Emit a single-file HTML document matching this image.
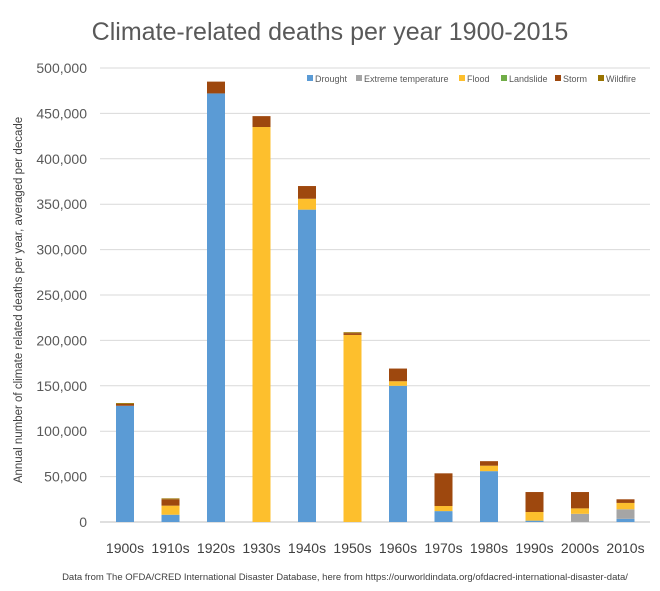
<!DOCTYPE html>
<html><head><meta charset="utf-8"><style>
body{margin:0;background:#fff;font-family:"Liberation Sans",sans-serif}
</style></head><body>
<svg id="c" width="660" height="586" xmlns="http://www.w3.org/2000/svg">
<text x="330" y="40" text-anchor="middle" font-size="25" fill="#595959">Climate-related deaths per year 1900-2015</text>
<text transform="translate(22,300) rotate(-90)" text-anchor="middle" font-size="11.5" fill="#404040">Annual number of climate related deaths per year, averaged per decade</text>
<text x="345" y="580" text-anchor="middle" font-size="9.5" fill="#404040">Data from The OFDA/CRED International Disaster Database, here from https://ourworldindata.org/ofdacred-international-disaster-data/</text>
<g id="grid"></g><g id="bars"></g><g id="legend"></g>
</svg>
<script>
const categories=["1900s","1910s","1920s","1930s","1940s","1950s","1960s","1970s","1980s","1990s","2000s","2010s"];
const seriesNames=["Drought","Extreme temperature","Flood","Landslide","Storm","Wildfire"];
const drought=[128,8,472,0,344,0,150,12,56,1.5,0,3.5];
const extremeTemp=[0,0,0,0,0,0,0,0,0,0,9,10.5];
const flood=[0,10,0,435,12,206,5,5.6,6,9.5,6,7];
const landslide=[0,0,0,0,0,0,0,0,0,0,0,0];
const storm=[2,7,13,12,14,2,14,36,5,22,18,4];
const wildfire=[1,1,0,0,0,1,0,0,0,0,0,0];
const yTicks=[0,50000,100000,150000,200000,250000,300000,350000,400000,450000,500000];
const colors=["#5b9bd5","#a5a5a5","#fdbf2d","#70ad47","#9e480e","#997300"];
const NS="http://www.w3.org/2000/svg";
const y=v=>522-v*(454/500000);
const x=i=>125+i*45.5;
function mk(t,a,p){const e=document.createElementNS(NS,t);for(const k in a)e.setAttribute(k,a[k]);p.appendChild(e);return e;}
const g=document.getElementById('grid');
yTicks.forEach(v=>{
 const l=mk('line',{x1:100,x2:650,y1:y(v),y2:y(v),stroke:v?'#d9d9d9':'#bfbfbf','stroke-width':1},g);
 
 
 const t=mk('text',{x:87,y:y(v)+5,'text-anchor':'end','font-size':14,fill:'#595959'},g);
 t.textContent=v.toLocaleString('en-US');
 
 
});
const series=[drought,extremeTemp,flood,landslide,storm,wildfire];
const b=document.getElementById('bars');
categories.forEach((c,i)=>{
 let acc=0;
 series.forEach((s,k)=>{
  const v=s[i]*1000; if(v<=0)return;
  const r=mk('rect',{x:x(i)-9,width:18,y:y(acc+v),height:y(acc)-y(acc+v),fill:colors[k]},b);
  
  
  acc+=v;
 });
 const t=mk('text',{x:x(i),y:553,'text-anchor':'middle','font-size':14,fill:'#404040'},b);
 t.textContent=c;
 
 
});
const lg=document.getElementById('legend');
const lx=[307,356,459,501,555,598];
seriesNames.forEach((n,k)=>{
 const r=mk('rect',{x:lx[k],y:75,width:6,height:6,fill:colors[k]},lg);
 
 
 const t=mk('text',{x:lx[k]+8,y:82,'font-size':9,fill:'#595959'},lg);
 t.textContent=n;
 
 
});
</script>
</body></html>
